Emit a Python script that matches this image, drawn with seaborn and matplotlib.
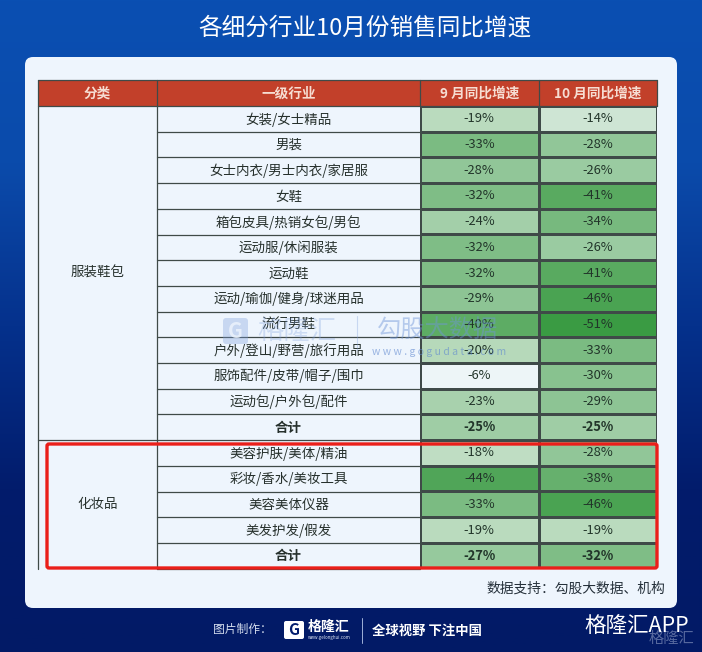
import numpy as np
import pandas as pd
import seaborn as sns
import matplotlib
matplotlib.use("Agg")
import matplotlib.pyplot as plt
from matplotlib.colors import LinearSegmentedColormap
from matplotlib.patches import FancyBboxPatch, Rectangle

sns.set_theme(style="white")
plt.rcParams['font.family'] = ['Noto Sans CJK SC', 'DejaVu Sans']

title = "各细分行业10月份销售同比增速"
headers = ["分类", "一级行业", "9 月同比增速", "10 月同比增速"]
industries = ["女装/女士精品", "男装", "女士内衣/男士内衣/家居服", "女鞋", "箱包皮具/热销女包/男包",
              "运动服/休闲服装", "运动鞋", "运动/瑜伽/健身/球迷用品", "流行男鞋", "户外/登山/野营/旅行用品",
              "服饰配件/皮带/帽子/围巾", "运动包/户外包/配件", "合计",
              "美容护肤/美体/精油", "彩妆/香水/美妆工具", "美容美体仪器", "美发护发/假发", "合计"]
sep_values = [-19, -33, -28, -32, -24, -32, -32, -29, -40, -20, -6, -23, -25, -18, -44, -33, -19, -27]
oct_values = [-14, -28, -26, -41, -34, -26, -41, -46, -51, -33, -30, -29, -25, -28, -38, -46, -19, -32]
groups = ["服装鞋包", "化妆品"]
group_rows = [13, 5]
source = "数据支持：勾股大数据、机构"

W, H = 702, 652
fig = plt.figure(figsize=(W / 100, H / 100), dpi=100)

# Page canvas in pixel coordinates
bg = fig.add_axes([0, 0, 1, 1])
bg.axis("off")
grad = LinearSegmentedColormap.from_list("bg", ["#0a4fb2", "#0b4bab", "#05318c", "#021c6c", "#021a66"])
bg.imshow(np.linspace(0, 1, 256)[:, None], cmap=grad, extent=(0, W, H, 0), aspect="auto", zorder=0)
bg.set_xlim(0, W)
bg.set_ylim(H, 0)
bg.add_patch(FancyBboxPatch((25, 57), 652, 551, boxstyle="round,pad=0,rounding_size=8",
                            fc="#eef5fd", ec="none", zorder=1))

bg.text(365, 28, title, color="white", fontsize=17, ha="center", va="center", zorder=5)

# Table geometry
x0, x1, x2, x3, x4 = 38, 157, 420, 539, 657
top, row0, rh = 80, 106, 25.7
n = len(industries)
bottom = row0 + n * rh

bg.add_patch(Rectangle((x0, top), x4 - x0, row0 - top, fc="#c2402a", ec="none", zorder=2))
for a, b, t in zip([x0, x1, x2, x3], [x1, x2, x3, x4], headers):
    bg.text((a + b) / 2, (top + row0) / 2 + 0.5, t, color="#f6ddd2", fontsize=9.8, fontweight="bold",
            ha="center", va="center", zorder=5)

# Heatmap of the two growth columns
ax = fig.add_axes([x2 / W, 1 - bottom / H, (x4 - x2) / W, (bottom - row0) / H])
df = pd.DataFrame({"9月": sep_values, "10月": oct_values})
labels = df.map(lambda v: f"{v}%").values
cmap = LinearSegmentedColormap.from_list("g", ["#379a40", "#5cab63", "#8fc596", "#c4e0c8", "#f1f7fb"])
sns.heatmap(df, ax=ax, cmap=cmap, vmin=-52, vmax=-5, annot=labels, fmt="", cbar=False,
            linewidths=0.9, linecolor="#3f4a48", xticklabels=False, yticklabels=False,
            annot_kws={"fontsize": 9.3, "color": "#22352a"})
bold_rows = {12, 17}
for i, t in enumerate(ax.texts):
    if i // 2 in bold_rows:
        t.set_fontweight("bold")
ax.patch.set_alpha(0)
ax.set_xlabel("")
ax.set_ylabel("")

# Text columns and rules
line = "#3f4a48"
for i, name in enumerate(industries):
    y = row0 + (i + .5) * rh + 0.5
    bg.text((x1 + x2) / 2, y, name, color="#26302c", fontsize=9.7, ha="center", va="center", zorder=5,
            fontweight="bold" if i in bold_rows else "normal")
    bg.plot([x1, x2], [row0 + (i + 1) * rh] * 2, color=line, lw=0.9, zorder=3)

start = 0
for g, c in zip(groups, group_rows):
    bg.text((x0 + x1) / 2, row0 + (start + c / 2) * rh, g, color="#26302c", fontsize=9.7,
            ha="center", va="center", zorder=5)
    start += c
for xa, xb, ya, yb in [(x0, x0, top, bottom), (x1, x1, top, bottom), (x0, x4, top, top),
                       (x0, x4, row0, row0), (x0, x1, row0 + 13 * rh, row0 + 13 * rh),
                       (x2, x2, top, row0), (x3, x3, top, row0), (x4, x4, top, row0)]:
    bg.plot([xa, xb], [ya, yb], color=line, lw=0.9, zorder=3)

# Overlay axes for the highlight and watermark, above the heatmap
ov = fig.add_axes([0, 0, 1, 1], facecolor="none")
ov.set_xlim(0, W)
ov.set_ylim(H, 0)
ov.axis("off")
ov.add_patch(FancyBboxPatch((47, 444), 610, 124, boxstyle="round,pad=0,rounding_size=2",
                            fc="none", ec="#ea1f1a", lw=2.4))
# watermark
ov.add_patch(FancyBboxPatch((223, 318), 25, 26, boxstyle="round,pad=0,rounding_size=3",
                            fc="#7fa0dc", ec="none", alpha=.35))
ov.text(235.5, 331, "G", color="#eef5fd", fontsize=15, fontweight="bold", ha="center", va="center", alpha=.8)
ov.text(297, 331, "格隆汇", color="#7fa0dc", fontsize=19, ha="center", va="center", alpha=.3)
ov.plot([357, 357], [316, 350], color="#7fa0dc", lw=.8, alpha=.35)
ov.text(438, 331, "勾股大数据", color="#6f95d8", fontsize=17.5, ha="center", va="center", alpha=.45)
ov.text(439, 352, "w w w . g o g u d a t a . c o m", color="#5f88d0", fontsize=7.5, ha="center", va="center", alpha=.6)

ov.text(665, 589, source, color="#25303a", fontsize=9.9, ha="right", va="center")

# Footer
ov.text(213, 629, "图片制作：", color="#dfe7f5", fontsize=8.5, va="center", ha="left", alpha=.95)
ov.add_patch(FancyBboxPatch((284, 621), 20, 18, boxstyle="round,pad=0,rounding_size=2", fc="white", ec="none"))
ov.text(294, 630, "G", color="#021c6c", fontsize=11, fontweight="bold", ha="center", va="center")
ov.text(308, 627, "格隆汇", color="white", fontsize=10, fontweight="bold", va="center", ha="left")
ov.text(308, 638, "www.gelonghui.com", color="#dfe7f5", fontsize=3.2, va="center", ha="left")
ov.plot([362, 362], [618, 643], color="#9fb0d8", lw=.7)
ov.text(372, 631, "全球视野 下注中国", color="white", fontsize=9.6, fontweight="bold", va="center", ha="left")
ov.text(694, 638, "格隆汇", color="#8f9dc4", fontsize=11, va="center", ha="right", alpha=.6)
ov.text(584, 627, "格隆汇APP", color="white", fontsize=15.5, va="center", ha="left")

fig.savefig("out.png", dpi=100)
